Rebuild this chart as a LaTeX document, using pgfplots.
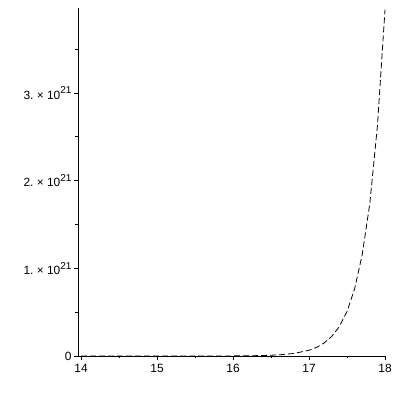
\documentclass[border=0pt]{standalone}
\usepackage{pgfplots}
\pgfplotsset{compat=1.18}
\usepackage{fontspec}
\setmainfont{Liberation Sans}
\newcommand{\sx}[1]{#1.\ ×\ 10\raisebox{0.45em}{\fontsize{10}{12}\selectfont 21}}
\begin{document}
\begin{tikzpicture}
\useasboundingbox (0,0) rectangle (400bp,400bp);
\begin{axis}[
  at={(78bp,44bp)}, anchor=south west,
  scale only axis, width=307bp, height=348bp,
  xmin=13.96, xmax=18.0, ymin=0, ymax=3.97e21,
  scaled y ticks=false, scaled x ticks=false,
  axis lines*=left,
  axis line style={line width=0.8bp},
  tick align=outside,
  major tick length=4bp, minor tick length=2.5bp,
  every tick/.style={black, line width=0.8bp},
  xtick={14,15,16,17,18},
  xticklabels={14,15,16,17,18},
  ytick={0,1e21,2e21,3e21},
  yticklabels={0,{\sx{1}},{\sx{2}},{\sx{3}}},
  minor xtick={14.5,15.5,16.5,17.5},
  minor ytick={0.5e21,1.5e21,2.5e21,3.5e21},
  tick label style={font=\fontsize{12}{14}\selectfont},
  xticklabel style={yshift=-1bp},
  yticklabel style={xshift=1bp},
  clip=false,
]
\addplot[black, line width=0.8bp, dash pattern=on 6bp off 3bp] coordinates {
(14.0,0) (15.0,0.00002e21) (16.0,0.0011e21) (16.2,0.0025e21) (16.4,0.0056e21)
(16.6,0.0127e21) (16.8,0.0288e21) (17.0,0.0655e21) (17.1,0.0987e21)
(17.2,0.149e21) (17.3,0.224e21) (17.4,0.337e21) (17.5,0.508e21)
(17.6,0.766e21) (17.7,1.155e21) (17.8,1.740e21) (17.9,2.622e21) (18.0,3.95e21)
};
\end{axis}
\end{tikzpicture}
\end{document}
